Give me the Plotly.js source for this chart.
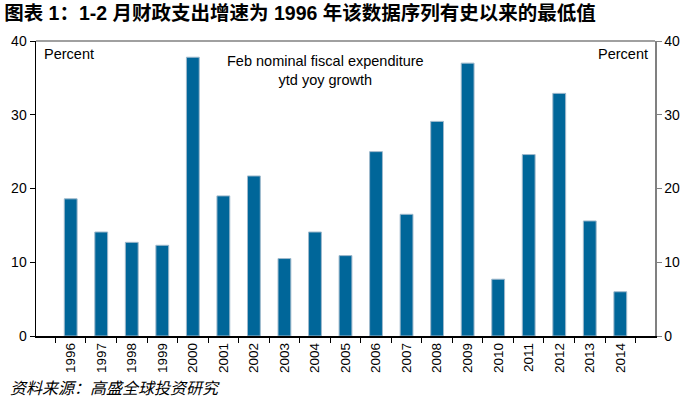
<!DOCTYPE html>
<html>
<head>
<meta charset="utf-8">
<script src="https://cdn.plot.ly/plotly-3.0.1.min.js"></script>
<style>html,body{margin:0;padding:0;background:#fff;}#chart{width:695px;height:408px;}</style>
</head>
<body>
<div id="chart"></div>
<script>
const years = ['1996','1997','1998','1999','2000','2001','2002','2003','2004','2005','2006','2007','2008','2009','2010','2011','2012','2013','2014'];
const growth = [18.6,14.1,12.7,12.3,37.8,19.0,21.7,10.5,14.1,10.9,25.0,16.5,29.1,37.0,7.7,24.6,32.9,15.6,6.0];
const yTicks = [0,10,20,30,40];

const FONT = 'Liberation Sans, Arial, Noto Sans CJK SC, sans-serif';

const traces = [
  {type:'bar', x:years, y:growth, marker:{color:'#006699', line:{color:'#9fb9cc', width:1}}, hoverinfo:'x+y'},
  {type:'scatter', mode:'markers', x:years, y:growth, yaxis:'y2', marker:{opacity:0}, hoverinfo:'skip', showlegend:false}
];

const layout = {
  width:695, height:408,
  margin:{l:36, r:40, t:41, b:72},
  paper_bgcolor:'#fff', plot_bgcolor:'#fff',
  showlegend:false,
  bargap:0.58,
  font:{family:FONT, size:12, color:'#000'},
  title:{text:'<b>图表 1：1-2 月财政支出增速为 1996 年该数据序列有史以来的最低值</b>', x:0.006, xanchor:'left', y:0.985, yanchor:'top', font:{family:FONT, size:19.5, color:'#000'}},
  xaxis:{type:'category', tickangle:-90, showline:true, linecolor:'#000', linewidth:1.5, ticks:'outside', tickson:'boundaries', ticklen:5, tickcolor:'#000', showgrid:false, tickfont:{size:13.5}},
  yaxis:{range:[0,40], tickvals:yTicks, showline:true, linecolor:'#000', linewidth:1.5, ticks:'outside', ticklen:5, tickcolor:'#000', showgrid:false, zeroline:false, tickfont:{size:14}},
  yaxis2:{range:[0,40], tickvals:yTicks, overlaying:'y', side:'right', showline:true, linecolor:'#808080', linewidth:1.5, ticks:'outside', ticklen:5, tickcolor:'#808080', showgrid:false, zeroline:false, tickfont:{size:14}},
  shapes:[{type:'line', xref:'paper', yref:'paper', x0:0, x1:1, y0:1, y1:1, line:{color:'#808080', width:1.5}}],
  annotations:[
    {text:'Percent', xref:'paper', yref:'paper', x:0.01, y:0.99, xanchor:'left', yanchor:'top', showarrow:false, font:{size:14.5}},
    {text:'Percent', xref:'paper', yref:'paper', x:0.992, y:0.99, xanchor:'right', yanchor:'top', showarrow:false, font:{size:14.5}},
    {text:'Feb nominal fiscal expenditure<br>ytd yoy growth', xref:'paper', yref:'paper', x:0.468, y:0.965, xanchor:'center', yanchor:'top', showarrow:false, font:{size:14.5}},
    {text:'<i>资料来源：高盛全球投资研究</i>', xref:'paper', yref:'paper', x:-0.045, y:-0.142, xanchor:'left', yanchor:'top', showarrow:false, font:{size:16}}
  ]
};

Plotly.newPlot('chart', traces, layout, {displayModeBar:false, staticPlot:true});
</script>
</body>
</html>
